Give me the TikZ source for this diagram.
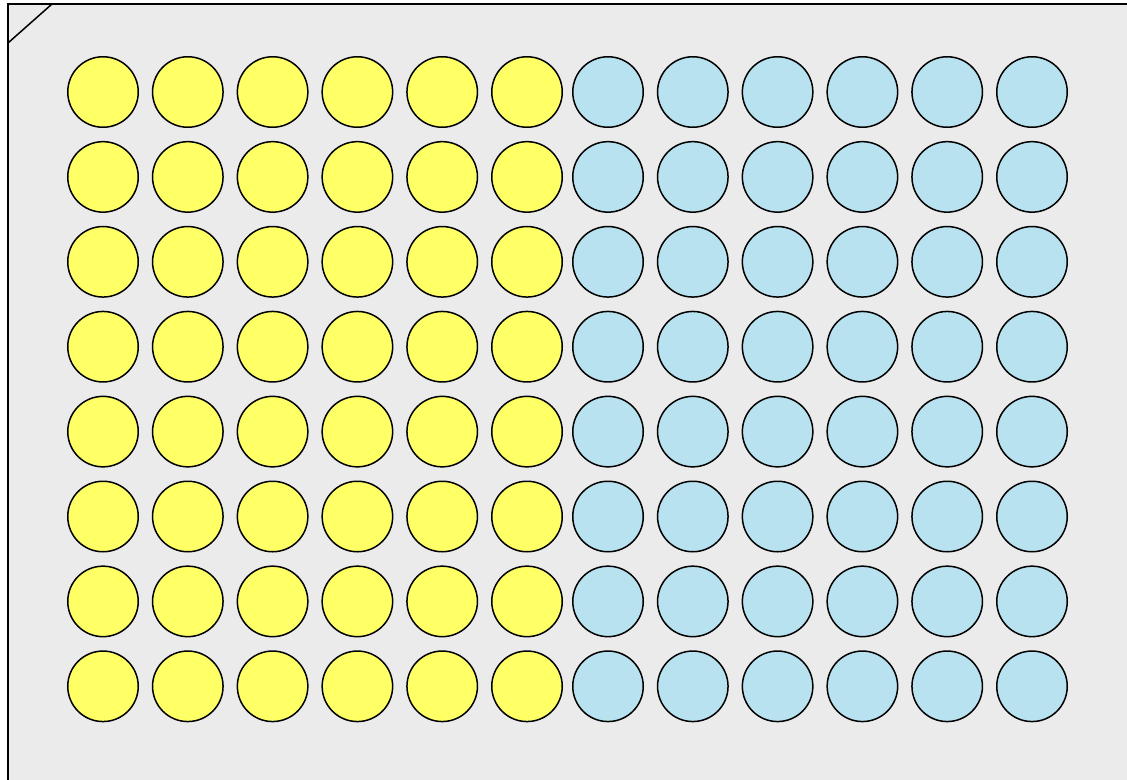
\documentclass[tikz,border=0pt]{standalone}
\definecolor{plategray}{HTML}{EBEBEB}
\definecolor{wellyellow}{HTML}{FFFF66}
\definecolor{wellblue}{HTML}{B8E2F0}
\tikzset{
  plate/.style={fill=plategray, draw=none},
  plateedge/.style={draw=black, line width=2pt},
  well/.style={circle, draw=black, line width=1.5pt, minimum size=70.5pt, inner sep=0pt},
  wy/.style={well, fill=wellyellow},
  wb/.style={well, fill=wellblue},
}
\begin{document}
\begin{tikzpicture}[x=1pt,y=-1pt]
\useasboundingbox (0,0) rectangle (1127,779);
\fill[white] (0,0) rectangle (1127,779);
\fill[plate] (8,4) -- (1140,4) -- (1140,790) -- (8,790) -- cycle;
\draw[plateedge] (1140,4) -- (8,4) -- (8,790);
\draw[plateedge, line width=1.5pt] (8,43) -- (52,4);
\foreach \r in {1,...,8} {
  \foreach \c in {1,...,6} {
    \node[wy] (w-\r-\c) at ({103+(\c-1)*84.8},{92+(\r-1)*84.9}) {};
  }
  \foreach \c in {7,...,12} {
    \node[wb] (w-\r-\c) at ({608+(\c-7)*84.8},{92+(\r-1)*84.9}) {};
  }
}
\end{tikzpicture}
\end{document}
